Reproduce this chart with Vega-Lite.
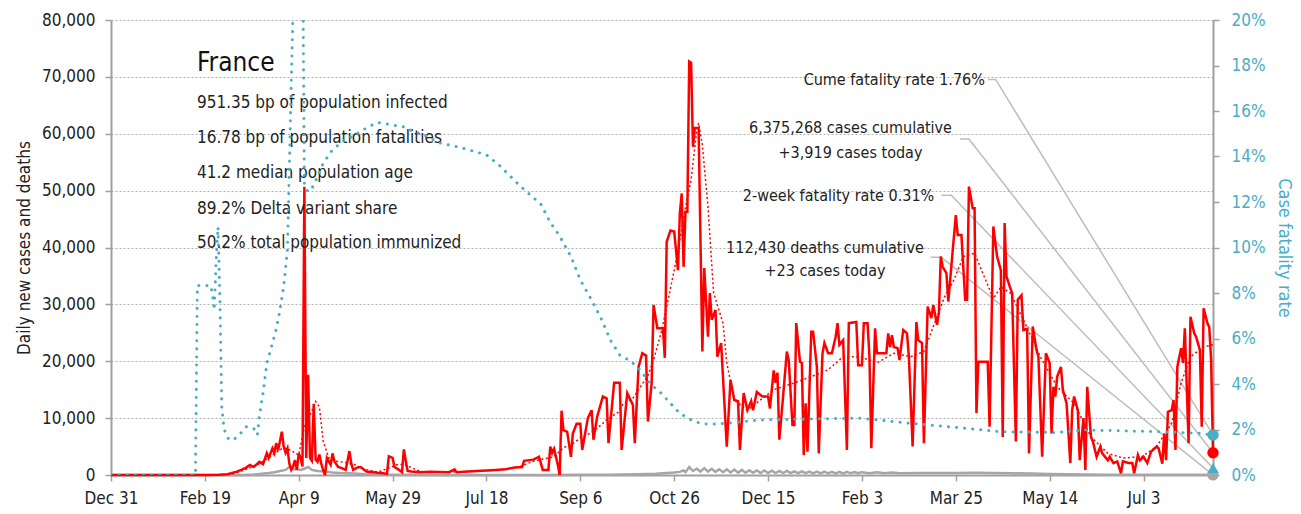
{
  "$schema": "https://vega.github.io/schema/vega-lite/v6.json",
  "width": 1102,
  "height": 455,
  "autosize": {"type": "none"},
  "padding": {"left": 111, "top": 20, "right": 88, "bottom": 39},
  "background": "white",
  "config": {
    "font": "DejaVu Sans Condensed, DejaVu Sans, sans-serif",
    "view": {"stroke": null}
  },
  "datasets": {
    "cases": [
      {"day":0,"cases":0},{"day":30,"cases":0},{"day":45,"cases":5},{"day":52,"cases":20},{"day":58,"cases":50},{"day":62,"cases":150},{"day":64,"cases":300},{"day":67,"cases":600},{"day":70,"cases":1000},{"day":72,"cases":1300},{"day":74,"cases":1760},{"day":76,"cases":1400},{"day":78,"cases":2000},{"day":79,"cases":2300},{"day":81,"cases":1900},{"day":83,"cases":3850},{"day":84,"cases":3000},{"day":86,"cases":4700},{"day":87,"cases":3900},{"day":88,"cases":5600},{"day":89,"cases":4300},{"day":91,"cases":7600},{"day":92,"cases":5000},{"day":93,"cases":3900},{"day":94,"cases":4700},{"day":95,"cases":2000},{"day":96,"cases":900},{"day":97,"cases":1500},{"day":98,"cases":2600},{"day":99,"cases":900},{"day":100,"cases":3800},{"day":101,"cases":3000},{"day":102,"cases":1500},{"day":103,"cases":50700},{"day":104,"cases":3000},{"day":105,"cases":17600},{"day":106,"cases":3000},{"day":107,"cases":2500},{"day":108,"cases":12500},{"day":109,"cases":2700},{"day":110,"cases":2300},{"day":111,"cases":3600},{"day":112,"cases":2000},{"day":113,"cases":900},{"day":114,"cases":0},{"day":115,"cases":3000},{"day":117,"cases":1800},{"day":118,"cases":3800},{"day":119,"cases":2400},{"day":121,"cases":1400},{"day":123,"cases":1200},{"day":125,"cases":900},{"day":126,"cases":2500},{"day":127,"cases":4200},{"day":128,"cases":2000},{"day":129,"cases":900},{"day":131,"cases":1300},{"day":133,"cases":1400},{"day":136,"cases":600},{"day":140,"cases":500},{"day":142,"cases":400},{"day":145,"cases":300},{"day":147,"cases":200},{"day":148,"cases":3300},{"day":150,"cases":3000},{"day":151,"cases":1400},{"day":153,"cases":1000},{"day":155,"cases":500},{"day":156,"cases":4500},{"day":157,"cases":2500},{"day":158,"cases":700},{"day":160,"cases":600},{"day":165,"cases":500},{"day":170,"cases":550},{"day":180,"cases":500},{"day":183,"cases":1000},{"day":184,"cases":500},{"day":190,"cases":600},{"day":195,"cases":700},{"day":200,"cases":800},{"day":205,"cases":900},{"day":210,"cases":1000},{"day":215,"cases":1300},{"day":219,"cases":1400},{"day":220,"cases":2500},{"day":225,"cases":2700},{"day":228,"cases":3200},{"day":230,"cases":900},{"day":233,"cases":900},{"day":234,"cases":5000},{"day":235,"cases":3900},{"day":236,"cases":4600},{"day":238,"cases":1800},{"day":239,"cases":0},{"day":240,"cases":11300},{"day":241,"cases":7900},{"day":243,"cases":7600},{"day":245,"cases":3200},{"day":246,"cases":7300},{"day":248,"cases":9000},{"day":250,"cases":9000},{"day":251,"cases":4400},{"day":254,"cases":10000},{"day":256,"cases":11400},{"day":257,"cases":6200},{"day":259,"cases":10300},{"day":262,"cases":13800},{"day":264,"cases":13500},{"day":265,"cases":5600},{"day":268,"cases":16200},{"day":271,"cases":16200},{"day":272,"cases":4400},{"day":275,"cases":14400},{"day":278,"cases":12300},{"day":279,"cases":5600},{"day":281,"cases":19000},{"day":283,"cases":21400},{"day":285,"cases":21000},{"day":286,"cases":9400},{"day":288,"cases":16200},{"day":289,"cases":29900},{"day":291,"cases":25800},{"day":294,"cases":25800},{"day":295,"cases":20600},{"day":296,"cases":41000},{"day":298,"cases":43000},{"day":300,"cases":42800},{"day":302,"cases":36000},{"day":303,"cases":46000},{"day":304,"cases":49500},{"day":305,"cases":36600},{"day":306,"cases":46300},{"day":307,"cases":46300},{"day":308,"cases":72700},{"day":309,"cases":72500},{"day":310,"cases":57700},{"day":311,"cases":61000},{"day":313,"cases":61000},{"day":315,"cases":21700},{"day":316,"cases":36400},{"day":318,"cases":24300},{"day":319,"cases":32000},{"day":320,"cases":27300},{"day":322,"cases":29000},{"day":323,"cases":20800},{"day":325,"cases":23200},{"day":328,"cases":5000},{"day":330,"cases":16700},{"day":332,"cases":13200},{"day":334,"cases":13000},{"day":335,"cases":4400},{"day":337,"cases":14400},{"day":339,"cases":11400},{"day":341,"cases":13000},{"day":342,"cases":11400},{"day":344,"cases":14600},{"day":347,"cases":13800},{"day":350,"cases":13800},{"day":351,"cases":11700},{"day":353,"cases":18400},{"day":354,"cases":16200},{"day":355,"cases":18000},{"day":356,"cases":6200},{"day":358,"cases":13800},{"day":360,"cases":21700},{"day":361,"cases":20200},{"day":363,"cases":8800},{"day":364,"cases":8800},{"day":365,"cases":26700},{"day":367,"cases":19900},{"day":368,"cases":19700},{"day":369,"cases":3500},{"day":370,"cases":12600},{"day":371,"cases":4100},{"day":373,"cases":25200},{"day":374,"cases":25200},{"day":376,"cases":19000},{"day":377,"cases":3800},{"day":379,"cases":21400},{"day":380,"cases":23200},{"day":382,"cases":21400},{"day":384,"cases":21400},{"day":386,"cases":24300},{"day":387,"cases":26700},{"day":388,"cases":22900},{"day":390,"cases":23700},{"day":392,"cases":4400},{"day":393,"cases":26700},{"day":397,"cases":26900},{"day":398,"cases":19300},{"day":400,"cases":19300},{"day":401,"cases":26700},{"day":403,"cases":26700},{"day":404,"cases":20800},{"day":405,"cases":4700},{"day":407,"cases":25800},{"day":408,"cases":21400},{"day":410,"cases":21400},{"day":413,"cases":21400},{"day":414,"cases":24900},{"day":415,"cases":22500},{"day":416,"cases":24600},{"day":417,"cases":22500},{"day":419,"cases":22300},{"day":420,"cases":20200},{"day":422,"cases":25500},{"day":424,"cases":24900},{"day":425,"cases":20800},{"day":427,"cases":5000},{"day":429,"cases":26900},{"day":430,"cases":23700},{"day":432,"cases":23200},{"day":433,"cases":5600},{"day":435,"cases":29600},{"day":437,"cases":27600},{"day":438,"cases":29900},{"day":440,"cases":26400},{"day":441,"cases":28500},{"day":442,"cases":38400},{"day":443,"cases":36600},{"day":445,"cases":35500},{"day":446,"cases":30500},{"day":450,"cases":45700},{"day":451,"cases":42200},{"day":453,"cases":42200},{"day":455,"cases":30800},{"day":456,"cases":30800},{"day":457,"cases":50700},{"day":459,"cases":46900},{"day":460,"cases":46900},{"day":461,"cases":10900},{"day":462,"cases":19900},{"day":467,"cases":19900},{"day":468,"cases":8500},{"day":470,"cases":43700},{"day":472,"cases":38400},{"day":474,"cases":36000},{"day":475,"cases":6700},{"day":476,"cases":44300},{"day":477,"cases":34900},{"day":479,"cases":32900},{"day":480,"cases":32000},{"day":482,"cases":5900},{"day":483,"cases":30800},{"day":485,"cases":31600},{"day":486,"cases":25500},{"day":488,"cases":25700},{"day":489,"cases":3800},{"day":491,"cases":26100},{"day":493,"cases":22000},{"day":494,"cases":20800},{"day":496,"cases":3200},{"day":498,"cases":21400},{"day":500,"cases":19700},{"day":501,"cases":7300},{"day":502,"cases":15500},{"day":503,"cases":13800},{"day":504,"cases":17300},{"day":506,"cases":19000},{"day":507,"cases":15000},{"day":509,"cases":12600},{"day":511,"cases":2100},{"day":512,"cases":11400},{"day":513,"cases":13800},{"day":515,"cases":11400},{"day":516,"cases":2600},{"day":518,"cases":10000},{"day":519,"cases":900},{"day":520,"cases":15500},{"day":522,"cases":6700},{"day":523,"cases":5900},{"day":525,"cases":3200},{"day":527,"cases":5000},{"day":528,"cases":3800},{"day":531,"cases":2600},{"day":532,"cases":3200},{"day":534,"cases":2100},{"day":536,"cases":2400},{"day":538,"cases":300},{"day":539,"cases":2400},{"day":542,"cases":2100},{"day":544,"cases":2100},{"day":545,"cases":300},{"day":547,"cases":3500},{"day":548,"cases":2600},{"day":550,"cases":3200},{"day":552,"cases":2100},{"day":554,"cases":4100},{"day":557,"cases":5000},{"day":558,"cases":4700},{"day":560,"cases":2000},{"day":561,"cases":7300},{"day":562,"cases":2600},{"day":563,"cases":11100},{"day":565,"cases":11400},{"day":566,"cases":13200},{"day":567,"cases":4400},{"day":568,"cases":19000},{"day":570,"cases":22300},{"day":571,"cases":19700},{"day":572,"cases":25800},{"day":574,"cases":5600},{"day":575,"cases":27800},{"day":577,"cases":24900},{"day":578,"cases":24300},{"day":580,"cases":22000},{"day":581,"cases":8500},{"day":582,"cases":29300},{"day":584,"cases":26700},{"day":585,"cases":26000},{"day":586,"cases":20200},{"day":587,"cases":3919}
    ],
    "avg": [
      {"day":0,"avg":0},{"day":55,"avg":10},{"day":65,"avg":200},{"day":72,"avg":1000},{"day":78,"avg":1800},{"day":84,"avg":3000},{"day":88,"avg":4000},{"day":92,"avg":4800},{"day":96,"avg":4300},{"day":100,"avg":3500},{"day":103,"avg":8500},{"day":106,"avg":10500},{"day":109,"avg":12900},{"day":111,"avg":12000},{"day":113,"avg":6000},{"day":116,"avg":3000},{"day":120,"avg":2400},{"day":125,"avg":2200},{"day":130,"avg":1800},{"day":135,"avg":1000},{"day":142,"avg":500},{"day":148,"avg":1200},{"day":152,"avg":1800},{"day":156,"avg":1900},{"day":160,"avg":1300},{"day":165,"avg":600},{"day":175,"avg":500},{"day":190,"avg":600},{"day":200,"avg":750},{"day":210,"avg":1000},{"day":218,"avg":1500},{"day":224,"avg":2300},{"day":230,"avg":2800},{"day":236,"avg":3200},{"day":241,"avg":4800},{"day":246,"avg":5500},{"day":250,"avg":6500},{"day":255,"avg":7300},{"day":260,"avg":8500},{"day":264,"avg":9700},{"day":270,"avg":11000},{"day":273,"avg":12600},{"day":278,"avg":13500},{"day":282,"avg":15500},{"day":286,"avg":17500},{"day":289,"avg":20200},{"day":293,"avg":25000},{"day":296,"avg":29600},{"day":300,"avg":36000},{"day":303,"avg":41300},{"day":306,"avg":47000},{"day":309,"avg":51900},{"day":312,"avg":60600},{"day":313,"avg":61900},{"day":315,"avg":58000},{"day":318,"avg":47100},{"day":321,"avg":32000},{"day":326,"avg":26700},{"day":328,"avg":19700},{"day":332,"avg":13200},{"day":339,"avg":11400},{"day":346,"avg":13200},{"day":353,"avg":15000},{"day":364,"avg":16200},{"day":373,"avg":17300},{"day":382,"avg":18500},{"day":390,"avg":20800},{"day":399,"avg":20800},{"day":408,"avg":19700},{"day":417,"avg":21400},{"day":426,"avg":20800},{"day":433,"avg":21700},{"day":438,"avg":26100},{"day":444,"avg":31300},{"day":449,"avg":34300},{"day":454,"avg":38400},{"day":460,"avg":39000},{"day":465,"avg":35000},{"day":470,"avg":31000},{"day":474,"avg":33100},{"day":479,"avg":32000},{"day":486,"avg":27300},{"day":495,"avg":20800},{"day":504,"avg":15500},{"day":513,"avg":12600},{"day":522,"avg":6700},{"day":531,"avg":3800},{"day":539,"avg":3000},{"day":549,"avg":3200},{"day":557,"avg":5000},{"day":565,"avg":9100},{"day":570,"avg":16200},{"day":575,"avg":20800},{"day":582,"avg":22500},{"day":587,"avg":22900}
    ],
    "deaths": [
      {"day":0,"deaths":0},{"day":55,"deaths":0},{"day":62,"deaths":5},{"day":68,"deaths":15},{"day":72,"deaths":30},{"day":76,"deaths":80},{"day":80,"deaths":200},{"day":84,"deaths":350},{"day":87,"deaths":500},{"day":90,"deaths":700},{"day":93,"deaths":900},{"day":95,"deaths":1400},{"day":97,"deaths":1000},{"day":99,"deaths":1000},{"day":101,"deaths":900},{"day":103,"deaths":1100},{"day":105,"deaths":1400},{"day":107,"deaths":900},{"day":110,"deaths":700},{"day":114,"deaths":600},{"day":118,"deaths":450},{"day":122,"deaths":350},{"day":126,"deaths":300},{"day":130,"deaths":250},{"day":135,"deaths":150},{"day":140,"deaths":100},{"day":145,"deaths":70},{"day":150,"deaths":50},{"day":160,"deaths":30},{"day":180,"deaths":15},{"day":210,"deaths":10},{"day":230,"deaths":20},{"day":250,"deaths":40},{"day":265,"deaths":60},{"day":280,"deaths":120},{"day":290,"deaths":200},{"day":296,"deaths":350},{"day":300,"deaths":450},{"day":303,"deaths":550},{"day":305,"deaths":800},{"day":306,"deaths":500},{"day":308,"deaths":1400},{"day":310,"deaths":700},{"day":312,"deaths":1100},{"day":314,"deaths":600},{"day":316,"deaths":1200},{"day":318,"deaths":600},{"day":320,"deaths":1100},{"day":322,"deaths":550},{"day":324,"deaths":1000},{"day":326,"deaths":500},{"day":328,"deaths":1000},{"day":330,"deaths":450},{"day":332,"deaths":950},{"day":334,"deaths":400},{"day":336,"deaths":900},{"day":338,"deaths":400},{"day":340,"deaths":850},{"day":342,"deaths":380},{"day":344,"deaths":800},{"day":346,"deaths":350},{"day":348,"deaths":780},{"day":350,"deaths":350},{"day":352,"deaths":750},{"day":354,"deaths":350},{"day":356,"deaths":700},{"day":358,"deaths":330},{"day":360,"deaths":700},{"day":362,"deaths":320},{"day":364,"deaths":650},{"day":366,"deaths":320},{"day":368,"deaths":650},{"day":370,"deaths":320},{"day":372,"deaths":600},{"day":374,"deaths":300},{"day":376,"deaths":600},{"day":378,"deaths":300},{"day":380,"deaths":600},{"day":382,"deaths":300},{"day":384,"deaths":550},{"day":386,"deaths":300},{"day":388,"deaths":550},{"day":390,"deaths":300},{"day":392,"deaths":550},{"day":394,"deaths":300},{"day":396,"deaths":500},{"day":398,"deaths":300},{"day":400,"deaths":500},{"day":404,"deaths":320},{"day":408,"deaths":480},{"day":412,"deaths":320},{"day":416,"deaths":450},{"day":420,"deaths":320},{"day":430,"deaths":350},{"day":440,"deaths":330},{"day":450,"deaths":350},{"day":460,"deaths":380},{"day":470,"deaths":350},{"day":480,"deaths":300},{"day":490,"deaths":250},{"day":500,"deaths":180},{"day":510,"deaths":120},{"day":520,"deaths":80},{"day":530,"deaths":50},{"day":540,"deaths":40},{"day":550,"deaths":30},{"day":560,"deaths":25},{"day":570,"deaths":30},{"day":580,"deaths":25},{"day":587,"deaths":23}
    ],
    "cfr": [
      {"day":0,"cfr":0},{"day":45,"cfr":0},{"day":46,"cfr":0.0833},{"day":53,"cfr":0.0833},{"day":54,"cfr":0.08},{"day":55,"cfr":0.0725},{"day":56,"cfr":0.094},{"day":57,"cfr":0.109},{"day":58,"cfr":0.077},{"day":59,"cfr":0.03},{"day":60,"cfr":0.022},{"day":61,"cfr":0.018},{"day":63,"cfr":0.0154},{"day":66,"cfr":0.016},{"day":69,"cfr":0.0183},{"day":72,"cfr":0.0212},{"day":76,"cfr":0.0205},{"day":78,"cfr":0.0176},{"day":79,"cfr":0.0256},{"day":81,"cfr":0.036},{"day":83,"cfr":0.049},{"day":86,"cfr":0.058},{"day":88,"cfr":0.064},{"day":90,"cfr":0.0725},{"day":92,"cfr":0.083},{"day":94,"cfr":0.099},{"day":95,"cfr":0.135},{"day":96,"cfr":0.172},{"day":97,"cfr":0.205},{"day":98,"cfr":0.24},{"day":102,"cfr":0.24},{"day":103,"cfr":0.127},{"day":105,"cfr":0.1245},{"day":107,"cfr":0.126},{"day":110,"cfr":0.131},{"day":113,"cfr":0.137},{"day":118,"cfr":0.143},{"day":124,"cfr":0.147},{"day":129,"cfr":0.149},{"day":137,"cfr":0.153},{"day":142,"cfr":0.155},{"day":149,"cfr":0.154},{"day":156,"cfr":0.153},{"day":161,"cfr":0.151},{"day":168,"cfr":0.149},{"day":175,"cfr":0.146},{"day":186,"cfr":0.144},{"day":200,"cfr":0.1407},{"day":207,"cfr":0.136},{"day":218,"cfr":0.127},{"day":229,"cfr":0.119},{"day":234,"cfr":0.111},{"day":239,"cfr":0.105},{"day":245,"cfr":0.096},{"day":250,"cfr":0.0857},{"day":255,"cfr":0.0784},{"day":261,"cfr":0.069},{"day":266,"cfr":0.0593},{"day":271,"cfr":0.0527},{"day":277,"cfr":0.05},{"day":282,"cfr":0.046},{"day":287,"cfr":0.0403},{"day":293,"cfr":0.036},{"day":298,"cfr":0.0315},{"day":303,"cfr":0.0271},{"day":309,"cfr":0.0242},{"day":314,"cfr":0.0227},{"day":319,"cfr":0.0223},{"day":328,"cfr":0.0227},{"day":335,"cfr":0.0234},{"day":346,"cfr":0.0242},{"day":399,"cfr":0.025},{"day":426,"cfr":0.0227},{"day":453,"cfr":0.0207},{"day":474,"cfr":0.019},{"day":504,"cfr":0.0187},{"day":518,"cfr":0.0198},{"day":560,"cfr":0.019},{"day":580,"cfr":0.0183},{"day":587,"cfr":0.0176}
    ],
    "leaders": [
      {"id":"cume","day":467.1,"value":69560},{"id":"cume","day":471.2,"value":69560},{"id":"cume","day":587,"value":7040},
      {"id":"cases","day":452.2,"value":59070},{"id":"cases","day":457,"value":59070},{"id":"cases","day":587,"value":3919},
      {"id":"twoweek","day":442.3,"value":49170},{"id":"twoweek","day":447.6,"value":49170},{"id":"twoweek","day":587,"value":1240},
      {"id":"deaths","day":436.6,"value":38270},{"id":"deaths","day":442.3,"value":38270},{"id":"deaths","day":587,"value":23}
    ],
    "title": [{"day":45.8,"value":72430,"text":"France"}],
    "info": [
      {"day":45.8,"value":65400,"text":"951.35 bp of population infected"},
      {"day":45.8,"value":59250,"text":"16.78 bp of population fatalities"},
      {"day":45.8,"value":53100,"text":"41.2 median population age"},
      {"day":45.8,"value":46760,"text":"89.2% Delta variant share"},
      {"day":45.8,"value":40790,"text":"50.2% total population immunized"}
    ],
    "notesRight": [
      {"day":465.5,"value":69440,"text":"Cume fatality rate 1.76%"},
      {"day":438.5,"value":49050,"text":"2-week fatality rate 0.31%"}
    ],
    "notesCenter": [
      {"day":393.9,"value":61000,"text":"6,375,268 cases cumulative"},
      {"day":393.9,"value":56610,"text":"+3,919 cases today"},
      {"day":380.3,"value":39900,"text":"112,430 deaths cumulative"},
      {"day":380.3,"value":35860,"text":"+23 cases today"}
    ],
    "markersLeft": [
      {"day":587,"value":3919,"series":"cases"},
      {"day":587,"value":23,"series":"deaths"}
    ],
    "markersRight": [
      {"day":587,"cfr":0.0176,"kind":"cume"},
      {"day":587,"cfr":0.0031,"kind":"twoweek"}
    ]
  },
  "layer": [
    {
      "layer": [
        {
          "data": {"name": "leaders"},
          "mark": {"type": "line", "color": "#bdbdbd", "strokeWidth": 1.5},
          "encoding": {
            "x": {"field": "day", "type": "quantitative", "scale": {"domain": [0, 587], "nice": false, "zero": false},
              "axis": {"values": [0,50,100,150,200,250,300,350,400,450,500,550], "labelExpr": "timeFormat(datetime(2019, 11, 31 + datum.value), '%b %-d')", "title": null, "grid": false, "domainColor": "#a0a0a0", "domainWidth": 2, "tickColor": "#a0a0a0", "tickSize": 6, "tickWidth": 1.5, "labelFontSize": 17, "labelColor": "#222222", "labelPadding": 9, "labelFlush": false, "labelOverlap": false}},
            "y": {"field": "value", "type": "quantitative", "scale": {"domain": [0, 80000], "nice": false},
              "axis": {"values": [0,10000,20000,30000,40000,50000,60000,70000,80000], "format": ",", "labelExpr": "format(datum.value, ',')", "title": "Daily new cases and deaths", "grid": true, "gridColor": "#b0b0b0", "gridDash": [2, 2], "gridWidth": 1, "domainColor": "#a0a0a0", "domainWidth": 2, "tickColor": "#a0a0a0", "tickSize": 6, "tickWidth": 1.5, "labelFontSize": 17, "labelColor": "#222222", "labelPadding": 10, "titleFontSize": 17, "titleFontWeight": "normal", "titleColor": "#222222", "titlePadding": 8}},
            "detail": {"field": "id", "type": "nominal"}
          }
        },
        {
          "data": {"name": "deaths"},
          "mark": {"type": "line", "color": "#a6a6a6", "strokeWidth": 2.5},
          "encoding": {
            "x": {"field": "day", "type": "quantitative", "scale": {"domain": [0, 587], "nice": false, "zero": false}, "axis": {"title": null}},
            "y": {"field": "deaths", "type": "quantitative", "scale": {"domain": [0, 80000], "nice": false}, "axis": {"title": "Daily new cases and deaths", "format": ","}}
          }
        },
        {
          "data": {"name": "cases"},
          "mark": {"type": "line", "color": "#ff0000", "strokeWidth": 2.5},
          "encoding": {
            "x": {"field": "day", "type": "quantitative", "scale": {"domain": [0, 587], "nice": false, "zero": false}, "axis": {"title": null}},
            "y": {"field": "cases", "type": "quantitative", "scale": {"domain": [0, 80000], "nice": false}, "axis": {"title": "Daily new cases and deaths", "format": ","}}
          }
        },
        {
          "data": {"name": "avg"},
          "mark": {"type": "line", "color": "#ff0000", "strokeWidth": 1.5, "strokeDash": [2, 2.5]},
          "encoding": {
            "x": {"field": "day", "type": "quantitative", "scale": {"domain": [0, 587], "nice": false, "zero": false}, "axis": {"title": null}},
            "y": {"field": "avg", "type": "quantitative", "scale": {"domain": [0, 80000], "nice": false}, "axis": {"title": "Daily new cases and deaths", "format": ","}}
          }
        },
        {
          "data": {"name": "title"},
          "mark": {"type": "text", "align": "left", "baseline": "middle", "fontSize": 26, "color": "#111111"},
          "encoding": {
            "x": {"field": "day", "type": "quantitative", "scale": {"domain": [0, 587], "nice": false, "zero": false}, "axis": {"title": null}},
            "y": {"field": "value", "type": "quantitative", "scale": {"domain": [0, 80000], "nice": false}, "axis": {"title": "Daily new cases and deaths", "format": ","}},
            "text": {"field": "text"}
          }
        },
        {
          "data": {"name": "info"},
          "mark": {"type": "text", "align": "left", "baseline": "middle", "fontSize": 17, "color": "#222222"},
          "encoding": {
            "x": {"field": "day", "type": "quantitative", "scale": {"domain": [0, 587], "nice": false, "zero": false}, "axis": {"title": null}},
            "y": {"field": "value", "type": "quantitative", "scale": {"domain": [0, 80000], "nice": false}, "axis": {"title": "Daily new cases and deaths", "format": ","}},
            "text": {"field": "text"}
          }
        },
        {
          "data": {"name": "notesRight"},
          "mark": {"type": "text", "align": "right", "baseline": "middle", "fontSize": 16, "color": "#222222"},
          "encoding": {
            "x": {"field": "day", "type": "quantitative", "scale": {"domain": [0, 587], "nice": false, "zero": false}, "axis": {"title": null}},
            "y": {"field": "value", "type": "quantitative", "scale": {"domain": [0, 80000], "nice": false}, "axis": {"title": "Daily new cases and deaths", "format": ","}},
            "text": {"field": "text"}
          }
        },
        {
          "data": {"name": "notesCenter"},
          "mark": {"type": "text", "align": "center", "baseline": "middle", "fontSize": 16, "color": "#222222"},
          "encoding": {
            "x": {"field": "day", "type": "quantitative", "scale": {"domain": [0, 587], "nice": false, "zero": false}, "axis": {"title": null}},
            "y": {"field": "value", "type": "quantitative", "scale": {"domain": [0, 80000], "nice": false}, "axis": {"title": "Daily new cases and deaths", "format": ","}},
            "text": {"field": "text"}
          }
        },
        {
          "data": {"name": "markersLeft"},
          "mark": {"type": "point", "filled": true, "size": 130, "opacity": 1},
          "encoding": {
            "x": {"field": "day", "type": "quantitative", "scale": {"domain": [0, 587], "nice": false, "zero": false}, "axis": {"title": null}},
            "y": {"field": "value", "type": "quantitative", "scale": {"domain": [0, 80000], "nice": false}, "axis": {"title": "Daily new cases and deaths", "format": ","}},
            "color": {"field": "series", "type": "nominal", "scale": {"domain": ["cases", "deaths"], "range": ["#ff0000", "#a6a6a6"]}, "legend": null}
          }
        }
      ]
    },
    {
      "layer": [
        {
          "data": {"name": "cfr"},
          "mark": {"type": "line", "color": "#4bacc6", "strokeWidth": 3, "strokeCap": "round", "strokeDash": [0.1, 8], "clip": true},
          "encoding": {
            "x": {"field": "day", "type": "quantitative", "scale": {"domain": [0, 587], "nice": false, "zero": false}, "axis": {"title": null}},
            "y": {"field": "cfr", "type": "quantitative", "scale": {"domain": [0, 0.2], "nice": false},
              "axis": {"orient": "right", "values": [0,0.02,0.04,0.06,0.08,0.1,0.12,0.14,0.16,0.18,0.2], "format": ".0%", "title": "Case fatality rate", "grid": false, "domainColor": "#a0a0a0", "domainWidth": 2, "tickColor": "#a0a0a0", "tickSize": 6, "tickWidth": 1.5, "labelFontSize": 17, "labelColor": "#4bacc6", "labelPadding": 12, "titleFontSize": 18, "titleFontWeight": "normal", "titleColor": "#4bacc6", "titlePadding": 10}}
          }
        },
        {
          "data": {"name": "markersRight"},
          "mark": {"type": "point", "filled": true, "size": 130, "opacity": 1, "color": "#4bacc6"},
          "encoding": {
            "x": {"field": "day", "type": "quantitative", "scale": {"domain": [0, 587], "nice": false, "zero": false}, "axis": {"title": null}},
            "y": {"field": "cfr", "type": "quantitative", "scale": {"domain": [0, 0.2], "nice": false}, "axis": {"title": "Case fatality rate", "format": ".0%"}},
            "shape": {"field": "kind", "type": "nominal", "scale": {"domain": ["cume", "twoweek"], "range": ["circle", "triangle-up"]}, "legend": null}
          }
        }
      ]
    }
  ],
  "resolve": {"scale": {"y": "independent"}}
}
